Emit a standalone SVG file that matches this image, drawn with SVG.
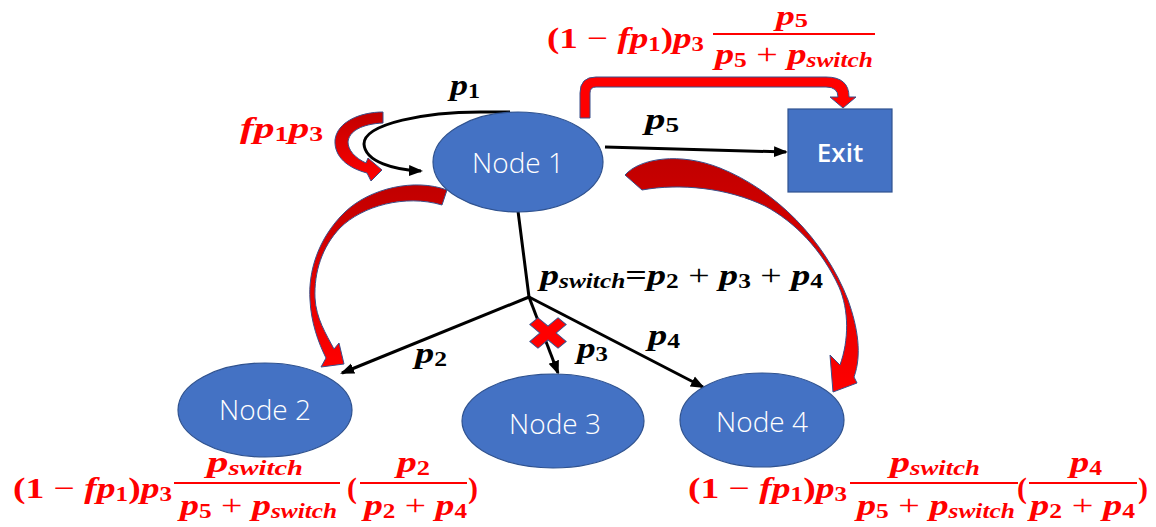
<svg xmlns="http://www.w3.org/2000/svg" width="1156" height="527" viewBox="0 0 1156 527">
<style>
.node{fill:#4472C4;stroke:#2F528F;stroke-width:1.2}
.nl{font-family:"Open Sans","Noto Sans","Liberation Sans",sans-serif;font-weight:300;font-size:28px;fill:#fff;text-anchor:middle}
.ex{font-family:"Open Sans","Noto Sans","Liberation Sans",sans-serif;font-weight:600;font-size:26px;fill:#fff;text-anchor:middle}
.m{font-family:"Liberation Serif","DejaVu Serif",serif;font-weight:bold;font-style:italic;font-size:30px}
.r{fill:#FF0000}
.k{fill:#000}
.up{font-style:normal}
.op{font-style:normal;font-weight:normal}
.s{font-size:20px;font-style:normal}
.si{font-size:20px}
.conn{fill:none;stroke:#000;stroke-width:3}
.bar{stroke:#FF0000;stroke-width:2.2}
.ra{stroke:#3A4F8A;stroke-width:1}
</style>
<defs>
<marker id="ah" markerWidth="14" markerHeight="12" refX="12" refY="6" orient="auto" markerUnits="userSpaceOnUse"><path d="M0,0.5 L14,6 L0,11.5 Z" fill="#000"/></marker>
<linearGradient id="rg" x1="0" y1="0" x2="0" y2="1"><stop offset="0" stop-color="#C00000"/><stop offset="0.5" stop-color="#E00000"/><stop offset="1" stop-color="#FF0000"/></linearGradient>
</defs>

<g id="connectors">
<path class="conn" d="M510,112 L488,112 C425,111 364,124 364,144 C365,162 395,170 421,171" marker-end="url(#ah)"/>
<path class="conn" d="M605,147 L786,152" marker-end="url(#ah)"/>
<path class="conn" d="M518,211 L529,297" stroke-linecap="round"/>
<path class="conn" d="M529,297 L342,373" marker-end="url(#ah)"/>
<path class="conn" d="M529,297 L558,373" marker-end="url(#ah)"/>
<path class="conn" d="M529,297 L703,387" marker-end="url(#ah)"/>
<path class="ra" fill="#FF0000" d="M580,118 L580,93 Q580,77 596,77 L826,77 Q849,77 849,97 L856,97 L843,108 L830,97 L838,97 Q838,87 826,87 L596,87 Q590,87 590,93 L590,118 Z"/>
<path class="ra" fill="url(#rg)" d="M383,112 C360,112 337,122 335,140 C334,157 348,168 367,173 L371,181 L382,170 L368,158 L366,163 C355,158 348,150 348,142 C349,131 362,124 383,123 Z"/>
<path class="ra" fill="url(#rg)" d="M447,190 C415,178 370,188 345,212 C318,238 308,272 310,300 C311,322 318,342 326,358 L321,367 L344,364 L339,343 L334,349 C326,334 316,318 315,298 C314,272 322,247 340,228 C362,206 405,194 442,205 Z"/>
<path class="ra" fill="url(#rg)" d="M625,175 C640,158 680,152 720,168 C775,190 825,240 848,300 C858,328 862,355 854,377 L857,383 L833,392 L830,355 L840,365 C849,340 849,310 839,287 C822,250 795,222 765,206 C728,188 680,183 642,190 Z"/>
<path class="ra" fill="#FF0000" transform="translate(548,333) scale(1.05,0.88) rotate(45)" d="M-5.5,-19 L5.5,-19 L5.5,-5.5 L19,-5.5 L19,5.5 L5.5,5.5 L5.5,19 L-5.5,19 L-5.5,5.5 L-19,5.5 L-19,-5.5 L-5.5,-5.5 Z"/>
</g>

<g id="node1">
<ellipse class="node" cx="518" cy="162" rx="85" ry="50"/>
<text class="nl" x="518" y="173">Node 1</text>
</g>
<g id="exit">
<rect class="node" x="788" y="109" width="104" height="83"/>
<text class="ex" x="840" y="162">Exit</text>
</g>
<g id="node2">
<ellipse class="node" cx="265" cy="410" rx="87" ry="47"/>
<text class="nl" x="265" y="420">Node 2</text>
</g>
<g id="node3">
<ellipse class="node" cx="553" cy="421" rx="91" ry="47"/>
<text class="nl" x="555" y="434">Node 3</text>
</g>
<g id="node4">
<ellipse class="node" cx="762" cy="420" rx="82" ry="47"/>
<text class="nl" x="762" y="432">Node 4</text>
</g>

<g id="labels">
<text class="m k" x="450" y="95" textLength="30" lengthAdjust="spacingAndGlyphs">p<tspan class="s" dy="3">1</tspan></text>
<text class="m r" x="240" y="138" textLength="83" lengthAdjust="spacingAndGlyphs">fp<tspan class="s" dy="3">1</tspan><tspan dy="-3">p</tspan><tspan class="s" dy="3">3</tspan></text>
<text class="m k" x="645" y="129" textLength="34" lengthAdjust="spacingAndGlyphs">p<tspan class="s" dy="3">5</tspan></text>
<text class="m k" x="540" y="285" textLength="283" lengthAdjust="spacingAndGlyphs">p<tspan class="si" dy="3">switch</tspan><tspan class="up" dy="-3">=</tspan>p<tspan class="s" dy="3">2</tspan><tspan class="op" dy="-3"> + </tspan>p<tspan class="s" dy="3">3</tspan><tspan class="op" dy="-3"> + </tspan>p<tspan class="s" dy="3">4</tspan></text>
<text class="m k" x="415" y="363" textLength="32" lengthAdjust="spacingAndGlyphs">p<tspan class="s" dy="3">2</tspan></text>
<text class="m k" x="577" y="358" textLength="31" lengthAdjust="spacingAndGlyphs">p<tspan class="s" dy="3">3</tspan></text>
<text class="m k" x="648" y="345" textLength="32" lengthAdjust="spacingAndGlyphs">p<tspan class="s" dy="3">4</tspan></text>
</g>

<g id="formula-exit">
<text class="m r" x="547" y="48" textLength="157" lengthAdjust="spacingAndGlyphs"><tspan class="up">(1</tspan><tspan class="op"> − </tspan>fp<tspan class="s" dy="3">1</tspan><tspan class="up" dy="-3">)</tspan>p<tspan class="s" dy="3">3</tspan></text>
<line class="bar" x1="713" y1="34" x2="875" y2="34"/>
<text class="m r" x="776" y="25" style="font-size:27px" textLength="32" lengthAdjust="spacingAndGlyphs">p<tspan class="s" style="font-size:19px" dy="2">5</tspan></text>
<text class="m r" x="715" y="64" textLength="158" lengthAdjust="spacingAndGlyphs">p<tspan class="s" dy="3">5</tspan><tspan class="op" dy="-3"> + </tspan>p<tspan class="si" dy="3">switch</tspan></text>
</g>

<g id="formula-node2">
<text class="m r" x="13" y="498" textLength="159" lengthAdjust="spacingAndGlyphs"><tspan class="up">(1</tspan><tspan class="op"> − </tspan>fp<tspan class="s" dy="3">1</tspan><tspan class="up" dy="-3">)</tspan>p<tspan class="s" dy="3">3</tspan></text>
<line class="bar" x1="174" y1="483" x2="340" y2="483"/>
<text class="m r" x="207" y="472" textLength="96" lengthAdjust="spacingAndGlyphs">p<tspan class="si" dy="3">switch</tspan></text>
<text class="m r" x="180" y="515" textLength="157" lengthAdjust="spacingAndGlyphs">p<tspan class="s" dy="3">5</tspan><tspan class="op" dy="-3"> + </tspan>p<tspan class="si" dy="3">switch</tspan></text>
<text class="m r up" x="347" y="498">(</text>
<line class="bar" x1="360" y1="483" x2="467" y2="483"/>
<text class="m r" x="397" y="472" textLength="33" lengthAdjust="spacingAndGlyphs">p<tspan class="s" dy="3">2</tspan></text>
<text class="m r" x="364" y="515" textLength="103" lengthAdjust="spacingAndGlyphs">p<tspan class="s" dy="3">2</tspan><tspan class="op" dy="-3"> + </tspan>p<tspan class="s" dy="3">4</tspan></text>
<text class="m r up" x="468" y="498">)</text>
</g>

<g id="formula-node4">
<text class="m r" x="688" y="498" textLength="159" lengthAdjust="spacingAndGlyphs"><tspan class="up">(1</tspan><tspan class="op"> − </tspan>fp<tspan class="s" dy="3">1</tspan><tspan class="up" dy="-3">)</tspan>p<tspan class="s" dy="3">3</tspan></text>
<line class="bar" x1="850" y1="483" x2="1018" y2="483"/>
<text class="m r" x="890" y="472" textLength="90" lengthAdjust="spacingAndGlyphs">p<tspan class="si" dy="3">switch</tspan></text>
<text class="m r" x="857" y="515" textLength="158" lengthAdjust="spacingAndGlyphs">p<tspan class="s" dy="3">5</tspan><tspan class="op" dy="-3"> + </tspan>p<tspan class="si" dy="3">switch</tspan></text>
<text class="m r up" x="1017" y="498">(</text>
<line class="bar" x1="1029" y1="483" x2="1137" y2="483"/>
<text class="m r" x="1070" y="472" textLength="32" lengthAdjust="spacingAndGlyphs">p<tspan class="s" dy="3">4</tspan></text>
<text class="m r" x="1030" y="515" textLength="105" lengthAdjust="spacingAndGlyphs">p<tspan class="s" dy="3">2</tspan><tspan class="op" dy="-3"> + </tspan>p<tspan class="s" dy="3">4</tspan></text>
<text class="m r up" x="1138" y="498">)</text>
</g>
</svg>
